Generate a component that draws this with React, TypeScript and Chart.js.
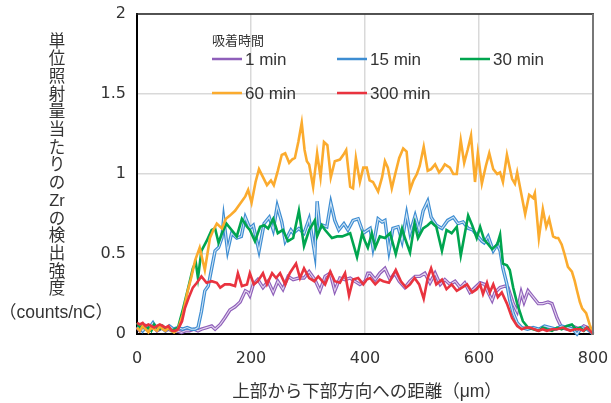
import { useEffect, useRef } from "react";
import { Chart, registerables } from "chart.js";

Chart.register(...registerables);

type P = [number, number];

const SERIES_NAMES = ["1 min", "15 min", "30 min", "60 min", "300 min"];
const LEGEND_TITLE = "吸着時間";
const Y_TITLE_CHARS = ["単", "位", "照", "射", "量", "当", "た", "り", "の", "Zr", "の", "検", "出", "強", "度"];
const Y_TITLE_UNIT = "（counts/nC）";
const X_TITLE = "上部から下部方向への距離（μm）";
const X_TICKS = [0, 200, 400, 600, 800];
const Y_TICKS = [0, 0.5, 1, 1.5, 2];

const s1: P[] = [
  [0,0.04],[5,0.02],[10,0.03],[15,0.05],[20,0.02],[25,0.03],[30,0.04],[35,0.02],[40,0.03],[45,0.04],[50,0.02],[55,0.03],[62,0.02],[70,0.02],[78,0.01],[85,0.02],[92,0.02],[100,0.03],[107,0.02],[113,0.03],[122,0.04],[131,0.05],[137,0.03],[146,0.06],[154,0.1],[163,0.15],[172,0.17],[181,0.2],[190,0.27],[195,0.26],[198,0.24],[204,0.31],[212,0.34],[221,0.29],[230,0.33],[239,0.26],[247,0.33],[256,0.28],[265,0.36],[274,0.34],[284,0.35],[293,0.35],[302,0.39],[312,0.34],[321,0.27],[330,0.36],[339,0.38],[347,0.27],[356,0.35],[365,0.34],[374,0.35],[382,0.33],[391,0.31],[400,0.33],[405,0.38],[409,0.38],[418,0.34],[426,0.38],[435,0.41],[444,0.34],[452,0.38],[460,0.33],[470,0.29],[479,0.33],[488,0.36],[496,0.36],[505,0.38],[514,0.32],[523,0.38],[532,0.31],[540,0.34],[549,0.31],[558,0.33],[567,0.29],[575,0.32],[584,0.26],[593,0.29],[602,0.32],[610,0.31],[616,0.26],[623,0.21],[628,0.26],[637,0.29],[646,0.3],[651,0.29],[660,0.19],[667,0.14],[674,0.26],[679,0.2],[686,0.27],[695,0.23],[704,0.19],[712,0.19],[721,0.2],[728,0.19],[737,0.1],[745,0.04],[754,0.03],[763,0.05],[770,0.04],[777,0.03],[784,0.05],[791,0.04],[796,0.02],[800,0.0]
];

const s15: P[] = [
  [0,0.03],[5,0.05],[10,0.02],[15,0.04],[20,0.03],[28,0.07],[35,0.03],[42,0.04],[50,0.02],[57,0.05],[64,0.03],[72,0.04],[80,0.03],[88,0.04],[95,0.03],[102,0.03],[107,0.04],[113,0.14],[119,0.27],[125,0.3],[131,0.41],[137,0.52],[143,0.54],[149,0.6],[152,0.72],[159,0.52],[166,0.63],[175,0.6],[183,0.61],[190,0.73],[198,0.66],[204,0.68],[214,0.52],[223,0.69],[232,0.73],[239,0.65],[246,0.8],[254,0.7],[260,0.58],[270,0.65],[274,0.63],[284,0.66],[293,0.63],[302,0.72],[312,0.5],[316,0.83],[321,0.66],[326,0.68],[333,0.67],[340,0.82],[347,0.71],[354,0.65],[363,0.69],[370,0.65],[379,0.71],[388,0.72],[397,0.63],[405,0.65],[409,0.66],[414,0.54],[423,0.72],[430,0.7],[435,0.71],[442,0.52],[449,0.66],[458,0.67],[465,0.58],[473,0.75],[479,0.63],[488,0.74],[495,0.65],[502,0.77],[510,0.83],[516,0.73],[525,0.68],[535,0.66],[545,0.71],[555,0.73],[563,0.69],[572,0.7],[581,0.66],[589,0.65],[598,0.61],[605,0.58],[609,0.57],[616,0.61],[625,0.52],[632,0.56],[637,0.52],[642,0.41],[649,0.31],[654,0.21],[660,0.13],[667,0.07],[675,0.04],[685,0.03],[695,0.04],[705,0.03],[715,0.05],[725,0.04],[735,0.03],[745,0.05],[755,0.04],[765,0.03],[772,0.0],[780,0.04],[790,0.03],[800,0.0]
];

const s30: P[] = [
  [0,0.07],[5,0.04],[10,0.05],[15,0.03],[20,0.04],[25,0.02],[30,0.06],[35,0.04],[40,0.03],[45,0.05],[50,0.03],[55,0.04],[60,0.02],[66,0.03],[72,0.04],[81,0.16],[90,0.29],[98,0.41],[103,0.45],[107,0.35],[113,0.52],[122,0.58],[131,0.65],[137,0.66],[143,0.57],[149,0.63],[157,0.69],[166,0.65],[175,0.61],[184,0.72],[193,0.67],[198,0.65],[207,0.58],[216,0.67],[223,0.68],[230,0.66],[239,0.72],[247,0.63],[256,0.65],[265,0.58],[274,0.6],[284,0.77],[293,0.55],[302,0.65],[312,0.71],[316,0.61],[324,0.68],[330,0.65],[342,0.6],[351,0.61],[360,0.61],[374,0.63],[386,0.48],[395,0.63],[400,0.58],[405,0.54],[412,0.63],[418,0.54],[426,0.61],[435,0.6],[444,0.63],[454,0.5],[465,0.66],[470,0.6],[479,0.51],[487,0.69],[493,0.6],[502,0.66],[510,0.68],[516,0.7],[525,0.67],[535,0.52],[543,0.65],[552,0.63],[561,0.67],[568,0.49],[581,0.74],[588,0.68],[596,0.6],[602,0.67],[609,0.59],[614,0.57],[623,0.53],[632,0.56],[637,0.62],[642,0.44],[649,0.43],[654,0.4],[660,0.29],[667,0.19],[677,0.08],[686,0.04],[695,0.03],[705,0.02],[712,0.04],[719,0.03],[728,0.02],[737,0.04],[745,0.03],[754,0.05],[763,0.06],[770,0.03],[777,0.04],[784,0.02],[790,0.04],[795,0.03],[800,0.0]
];

const s60: P[] = [
  [0,0.04],[5,0.02],[10,0.05],[15,0.03],[20,0.01],[25,0.04],[30,0.03],[35,0.02],[40,0.05],[45,0.03],[50,0.02],[55,0.04],[60,0.02],[65,0.01],[72,0.03],[80,0.12],[89,0.27],[95,0.35],[102,0.46],[110,0.54],[119,0.4],[128,0.6],[134,0.65],[140,0.69],[149,0.66],[156,0.72],[163,0.74],[172,0.77],[178,0.8],[184,0.83],[190,0.86],[195,0.9],[201,0.82],[208,0.95],[214,1.03],[221,0.98],[228,0.93],[235,0.96],[240,0.93],[247,1.02],[254,1.12],[260,1.13],[267,1.07],[272,1.09],[277,1.1],[283,1.2],[289,1.32],[294,1.15],[298,1.08],[302,1.06],[309,0.92],[316,1.13],[322,0.98],[328,1.2],[334,1.18],[340,0.98],[347,1.08],[356,1.09],[362,1.12],[367,1.15],[374,0.92],[379,0.91],[384,1.1],[391,0.95],[397,1.04],[403,1.04],[408,0.96],[414,0.95],[423,0.89],[430,0.98],[435,1.08],[440,1.04],[447,0.91],[453,1.0],[460,1.1],[467,1.16],[473,1.14],[479,0.9],[485,0.96],[491,1.0],[496,1.05],[503,1.17],[510,1.02],[516,1.03],[523,1.06],[530,1.01],[535,1.03],[540,1.06],[549,1.04],[555,1.0],[561,1.0],[568,1.21],[574,1.07],[580,1.15],[586,1.24],[593,0.95],[598,1.13],[605,0.94],[612,1.05],[618,1.13],[625,1.03],[632,1.0],[637,1.01],[642,0.95],[649,1.12],[658,0.97],[663,0.94],[667,1.01],[674,0.88],[681,0.75],[688,0.87],[695,0.85],[698,0.88],[705,0.6],[712,0.78],[718,0.67],[723,0.72],[730,0.61],[735,0.6],[739,0.6],[745,0.56],[750,0.5],[756,0.42],[763,0.39],[768,0.33],[772,0.27],[777,0.2],[781,0.16],[788,0.13],[794,0.06],[800,0.0]
];

const s300: P[] = [
  [0,0.07],[5,0.06],[10,0.07],[15,0.05],[20,0.06],[25,0.05],[30,0.04],[35,0.05],[40,0.06],[45,0.05],[50,0.04],[55,0.05],[61,0.02],[67,0.02],[72,0.03],[79,0.08],[84,0.16],[91,0.23],[98,0.29],[105,0.32],[113,0.36],[122,0.32],[131,0.33],[140,0.32],[146,0.29],[154,0.31],[163,0.31],[172,0.3],[177,0.38],[184,0.3],[193,0.31],[198,0.38],[205,0.31],[212,0.33],[221,0.38],[228,0.31],[237,0.38],[244,0.35],[251,0.38],[260,0.31],[268,0.38],[279,0.44],[286,0.35],[293,0.41],[302,0.35],[311,0.33],[318,0.36],[330,0.31],[339,0.39],[347,0.33],[356,0.32],[365,0.38],[372,0.24],[379,0.34],[388,0.35],[397,0.31],[403,0.34],[409,0.35],[418,0.31],[426,0.34],[432,0.33],[442,0.32],[454,0.4],[463,0.33],[472,0.29],[479,0.31],[487,0.35],[495,0.31],[503,0.22],[510,0.35],[516,0.41],[525,0.31],[535,0.34],[543,0.28],[552,0.31],[561,0.27],[570,0.29],[579,0.31],[588,0.26],[596,0.28],[602,0.31],[607,0.25],[614,0.32],[619,0.26],[625,0.31],[633,0.23],[640,0.26],[649,0.19],[658,0.1],[667,0.05],[675,0.03],[682,0.04],[689,0.04],[697,0.03],[704,0.02],[712,0.03],[719,0.02],[728,0.03],[737,0.03],[747,0.04],[754,0.03],[760,0.02],[768,0.03],[777,0.03],[783,0.02],[789,0.04],[795,0.02],[800,0.0]
];

const SERIES_DATA = [s1, s15, s30, s60, s300];
const COLORS = ["#8f5fba", "#3d8dd2", "#00a54f", "#fbab2e", "#e9333f"];
const HOLLOW = [true, true, false, false, false];

const FONT = '"Liberation Sans", "Noto Sans CJK JP", sans-serif';
const TICK_FONT = '"DejaVu Sans", "Liberation Sans", sans-serif';
const TEXT = "#333333";

const overlayPlugin = {
  id: "overlay",
  afterDraw(chart: any) {
    const { ctx, chartArea } = chart;
    const { left, right, top, bottom } = chartArea;
    ctx.save();
    ctx.lineCap = "butt";
    ctx.strokeStyle = "#222";
    ctx.lineWidth = 1.5;
    ctx.beginPath();
    ctx.moveTo(left - 1, top);
    ctx.lineTo(right + 1, top);
    ctx.stroke();
    ctx.strokeStyle = "#777";
    ctx.lineWidth = 2;
    ctx.beginPath();
    ctx.moveTo(right, top);
    ctx.lineTo(right, bottom);
    ctx.stroke();

    ctx.fillStyle = TEXT;
    ctx.textAlign = "center";
    ctx.textBaseline = "middle";
    ctx.font = `16.5px ${FONT}`;
    Y_TITLE_CHARS.forEach((c, i) => ctx.fillText(c, 57, 42 + i * 17.7));
    ctx.font = `17.5px ${FONT}`;
    ctx.fillText(Y_TITLE_UNIT, 56, 313);
    ctx.fillText(X_TITLE, 367, 392);

    ctx.textAlign = "left";
    ctx.font = `13px ${FONT}`;
    ctx.fillText(LEGEND_TITLE, 212, 41);
    ctx.font = `17px ${FONT}`;
    const cols = [212, 337, 460];
    const rows = [59, 93];
    SERIES_NAMES.forEach((name, i) => {
      const x = cols[i % 3];
      const y = rows[Math.floor(i / 3)];
      ctx.strokeStyle = COLORS[i];
      ctx.lineWidth = 2.5;
      ctx.beginPath();
      ctx.moveTo(x, y);
      ctx.lineTo(x + 30, y);
      ctx.stroke();
      ctx.fillStyle = TEXT;
      ctx.fillText(name, x + 33, y + 1);
    });
    ctx.restore();
  },
};

export default function App() {
  const ref = useRef<HTMLCanvasElement | null>(null);
  useEffect(() => {
    if (!ref.current) return;
    const datasets: any[] = [];
    SERIES_DATA.forEach((d, i) => {
      const pts = d.map(([x, y]) => ({ x, y }));
      const order = (4 - i) * 2;
      datasets.push({
        label: SERIES_NAMES[i],
        data: pts,
        borderColor: COLORS[i],
        borderWidth: HOLLOW[i] ? 3.4 : 2.6,
        pointRadius: 0,
        tension: 0,
        order: order + 1,
        clip: false,
      });
      if (HOLLOW[i]) {
        datasets.push({
          label: SERIES_NAMES[i] + " inner",
          data: pts,
          borderColor: "rgba(255,255,255,0.75)",
          borderWidth: 1.1,
          pointRadius: 0,
          tension: 0,
          order: order,
          clip: false,
        });
      }
    });
    const chart = new Chart(ref.current, {
      type: "line",
      data: { datasets },
      options: {
        animation: false,
        responsive: false,
        layout: { padding: { left: 0, right: 18, top: 14, bottom: 0 } },
        plugins: { legend: { display: false }, tooltip: { enabled: false } },
        scales: {
          x: {
            type: "linear",
            min: 0,
            max: 800,
            afterBuildTicks: (s: any) => { s.ticks = X_TICKS.map((v) => ({ value: v })); },
            afterFit: (s: any) => { s.height = 69; s.paddingLeft = 0; s.paddingRight = 0; },
            ticks: { color: TEXT, font: { family: TICK_FONT, size: 16 }, padding: 15, maxRotation: 0, callback: (v: any) => String(v) },
            grid: { color: "#d9d9d9", lineWidth: 1.5, drawTicks: false },
            border: { color: "#000", width: 2 },
          },
          y: {
            type: "linear",
            min: 0,
            max: 2,
            afterBuildTicks: (s: any) => { s.ticks = Y_TICKS.map((v) => ({ value: v })); },
            afterFit: (s: any) => { s.width = 137; s.paddingTop = 0; s.paddingBottom = 0; },
            ticks: { color: TEXT, font: { family: TICK_FONT, size: 16 }, padding: 11, callback: (v: any) => String(v) },
            grid: { color: "#d9d9d9", lineWidth: 1.5, drawTicks: false },
            border: { color: "#000", width: 2 },
          },
        },
      },
      plugins: [overlayPlugin],
    });
    return () => chart.destroy();
  }, []);
  return (
    <div style={{ position: "absolute", left: 0, top: 0, width: 611, height: 403, background: "#fff" }}>
      <canvas ref={ref} width={611} height={403} />
    </div>
  );
}
